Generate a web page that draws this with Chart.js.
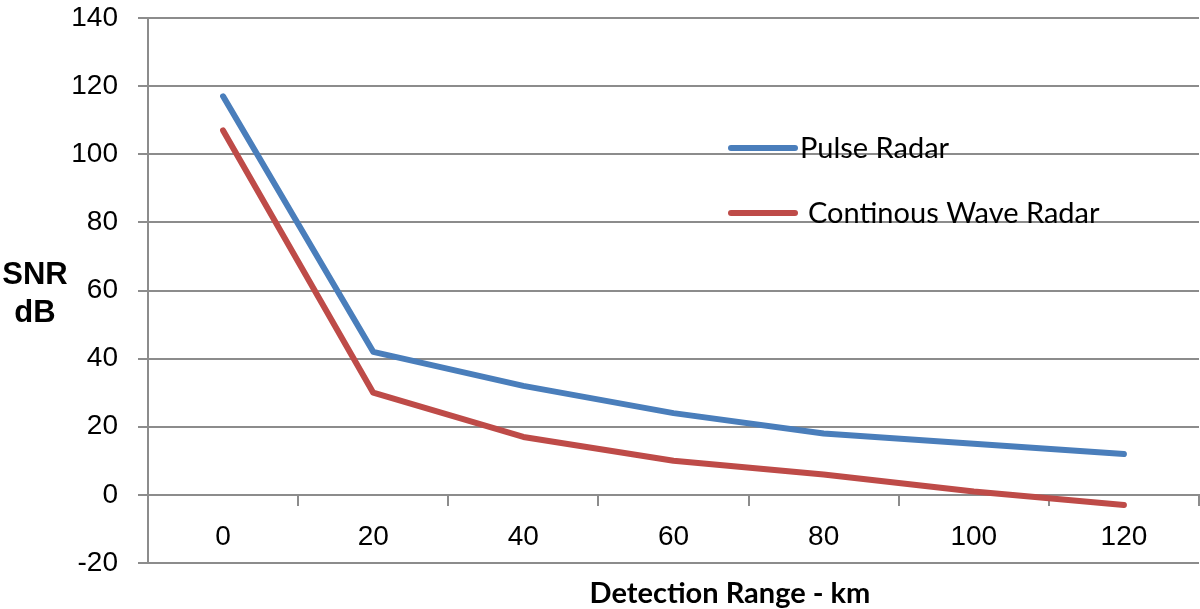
<!DOCTYPE html>
<html>
<head>
<meta charset="utf-8">
<script src="https://cdn.jsdelivr.net/npm/chart.js@4.4.1/dist/chart.umd.min.js"></script>
<style>
  html, body { margin: 0; padding: 0; background: #fff; }
  #wrap { width: 1200px; height: 609px; position: relative; }
</style>
</head>
<body>
<div id="wrap"><canvas id="c"></canvas></div>
<script>
// data
const ranges = ['0', '20', '40', '60', '80', '100', '120'];
const pulseSnr = [117, 42, 32, 24, 18, 15, 12];
const cwSnr = [107, 30, 17, 10, 6, 1, -3];
const yTitleLines = ['SNR', 'dB'];
const xTitle = 'Detection Range - km';

const GRID = '#8c8c8c';

// axis titles + in-plot legend
const extras = {
  id: 'extras',
  afterDraw(chart) {
    const { ctx } = chart;
    ctx.save();
    ctx.fillStyle = '#000';
    ctx.textAlign = 'center';
    ctx.textBaseline = 'alphabetic';
    ctx.font = 'bold 31px "Liberation Sans"';
    ctx.fillText(yTitleLines[0], 35, 284);
    ctx.fillText(yTitleLines[1], 35, 322);
    ctx.font = 'bold 29px Lato';
    ctx.fillText(xTitle, 730, 603);

    // legend
    const items = [
      { ds: chart.data.datasets[0], y: 148, tx: 800 },
      { ds: chart.data.datasets[1], y: 213, tx: 808 },
    ];
    ctx.textAlign = 'left';
    ctx.textBaseline = 'middle';
    ctx.font = '29px Lato';
    items.forEach(it => {
      ctx.strokeStyle = it.ds.borderColor;
      ctx.lineWidth = 6;
      ctx.lineCap = 'round';
      ctx.beginPath();
      ctx.moveTo(731, it.y);
      ctx.lineTo(795, it.y);
      ctx.stroke();
      ctx.fillStyle = '#000';
      ctx.fillText(it.ds.label, it.tx, it.y + 1);
    });
    ctx.restore();
  }
};

new Chart(document.getElementById('c'), {
  type: 'line',
  data: {
    labels: ranges,
    datasets: [
      { label: 'Pulse Radar', data: pulseSnr, borderColor: '#4a7ebb',
        borderWidth: 6, pointRadius: 0, borderCapStyle: 'round',
        borderJoinStyle: 'round', tension: 0 },
      { label: 'Continous Wave Radar', data: cwSnr, borderColor: '#be4b48',
        borderWidth: 6, pointRadius: 0, borderCapStyle: 'round',
        borderJoinStyle: 'round', tension: 0 },
    ],
  },
  options: {
    responsive: true,
    maintainAspectRatio: false,
    animation: false,
    layout: { padding: { top: 18, right: 1, bottom: 46, left: 0 } },
    plugins: { legend: { display: false }, tooltip: { enabled: false } },
    scales: {
      x: {
        type: 'category',
        position: { y: 0 },
        offset: true,
        afterFit(s) { s.height = 0; s.paddingTop = 0; s.paddingBottom = 0; },
        grid: { offset: true, drawOnChartArea: false, drawTicks: true,
                tickLength: 10, color: GRID, lineWidth: 2 },
        border: { color: GRID, width: 2 },
        ticks: { color: '#000', padding: 16, maxRotation: 0,
                 font: { family: '"Liberation Sans"', size: 28 } },
      },
      y: {
        min: -20, max: 140,
        afterFit(s) { s.width = 148; s.paddingTop = 0; s.paddingBottom = 0; },
        ticks: { stepSize: 20, color: '#000', padding: 20,
                 font: { family: '"Liberation Sans"', size: 28 } },
        grid: { color: GRID, lineWidth: 2, tickLength: 10 },
        border: { color: GRID, width: 2 },
      },
    },
  },
  plugins: [extras],
});
</script>
</body>
</html>
